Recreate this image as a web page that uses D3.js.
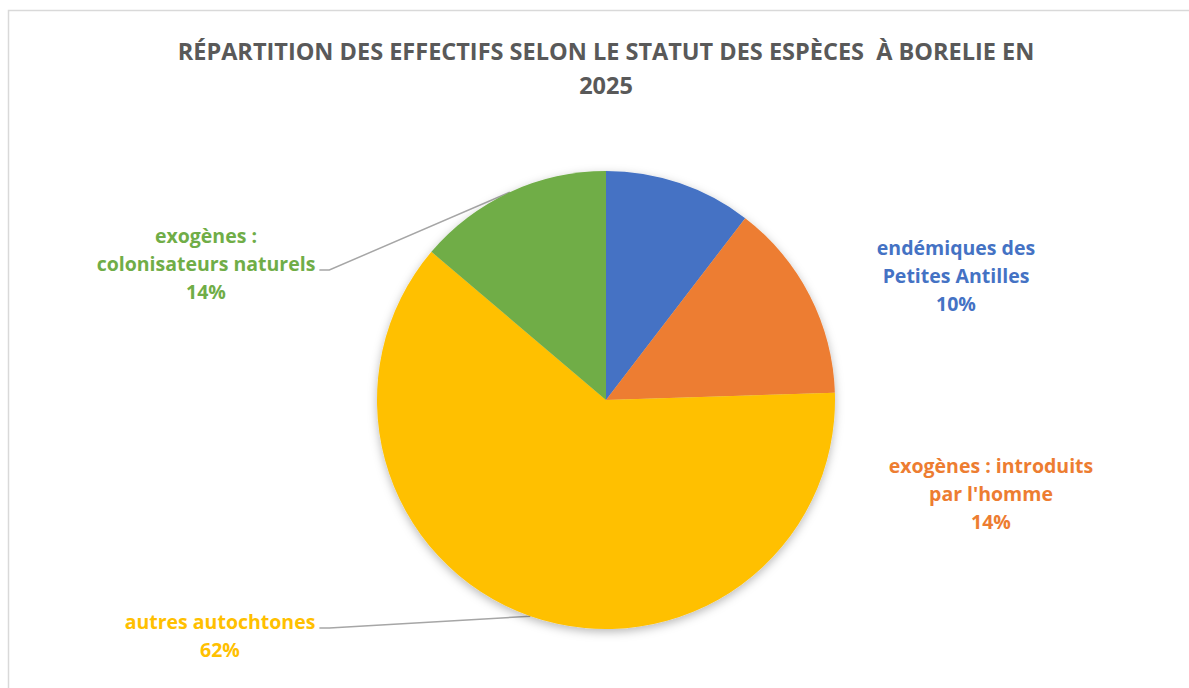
<!DOCTYPE html>
<html>
<head>
<meta charset="utf-8">
<script src="https://cdn.jsdelivr.net/npm/d3@7"></script>
<style>
  body { margin: 0; background: #fff; }
  text { font-family: "Open Sans", Lato, sans-serif; font-weight: bold; white-space: pre; }
</style>
</head>
<body>
<div id="chart"></div>
<script>
// data
var categories = ["endémiques des Petites Antilles", "exogènes : introduits par l'homme", "autres autochtones", "exogènes : colonisateurs naturels"];
var values = [10.4, 14.1, 61.7, 13.8];
var labelLines = [
  ["endémiques des", "Petites Antilles"],
  ["exogènes : introduits", "par l'homme"],
  ["autres autochtones"],
  ["exogènes :", "colonisateurs naturels"]
];
var colors = ["#4472C4", "#ED7D31", "#FFC000", "#70AD47"];
var titleLines = ["RÉPARTITION DES EFFECTIFS SELON LE STATUT DES ESPÈCES  À BORELIE EN", "2025"];

(function() {
  var width = 1189,
    height = 688;

  var cx = 606, cy = 400, radius = 229;

  // where Excel put each label (offset of the label block centre from the pie centre)
  var labelPos = [
    { dx: 350, dy: -124, leader: false },
    { dx: 385, dy: 94, leader: false },
    { dx: -386, dy: 236, leader: true },
    { dx: -400, dy: -136, leader: true }
  ];
  var lineH = 28;

  var svg = d3.select("#chart")
    .append("svg")
    .attr("width", width)
    .attr("height", height);

  svg.append("rect")
    .attr("x", 8.5)
    .attr("y", 10.5)
    .attr("width", width + 10)
    .attr("height", height + 10)
    .attr("fill", "#fff")
    .attr("stroke", "#D9D9D9")
    .attr("stroke-width", 1.5);

  var defs = svg.append("defs");
  var filter = defs.append("filter")
    .attr("id", "shadow")
    .attr("x", "-20%").attr("y", "-20%")
    .attr("width", "140%").attr("height", "140%");
  filter.append("feDropShadow")
    .attr("dx", 0)
    .attr("dy", 3)
    .attr("stdDeviation", 5)
    .attr("flood-color", "#000")
    .attr("flood-opacity", 0.28);

  // title
  svg.append("text")
    .attr("text-anchor", "middle")
    .attr("fill", "#595959")
    .style("font-size", "23.5px")
    .selectAll("tspan")
    .data(titleLines)
    .enter().append("tspan")
    .attr("x", 606)
    .attr("y", function(d, i) { return 60 + i * 34; })
    .text(function(d) { return d; });

  var data = categories.map(function(c, i) {
    return { name: c, value: values[i], lines: labelLines[i], color: colors[i], pos: labelPos[i] };
  });

  var pie = d3.pie()
    .sort(null)
    .value(function(d) { return d.value; });

  var arc = d3.arc()
    .innerRadius(0)
    .outerRadius(radius);

  var arcs = pie(data);

  var g = svg.append("g")
    .attr("transform", "translate(" + cx + "," + cy + ")");

  g.append("g")
    .attr("filter", "url(#shadow)")
    .selectAll("path")
    .data(arcs)
    .enter().append("path")
    .attr("d", arc)
    .attr("fill", function(d) { return d.data.color; });

  var total = d3.sum(values);

  var labels = g.selectAll(".lbl")
    .data(arcs)
    .enter().append("text")
    .attr("class", "lbl")
    .attr("text-anchor", "middle")
    .attr("fill", function(d) { return d.data.color; })
    .style("font-size", "19.5px");

  labels.each(function(d) {
    var t = d3.select(this);
    var lines = d.data.lines.concat([Math.round(d.data.value / total * 100) + "%"]);
    var top = d.data.pos.dy - (lines.length - 1) * lineH / 2;
    lines.forEach(function(l, i) {
      t.append("tspan")
        .attr("x", d.data.pos.dx)
        .attr("y", top + i * lineH + 7)
        .text(l);
    });
  });

  // leader lines for the labels sitting away from the pie
  labels.each(function(d) {
    if (!d.data.pos.leader) return;
    var tspans = d3.select(this).selectAll("tspan").nodes();
    var widest = 0, row = 0;
    tspans.slice(0, tspans.length - 1).forEach(function(n, i) {
      var w = n.getComputedTextLength();
      if (w >= widest) { widest = w; row = i; }
    });
    var x0 = d.data.pos.dx + widest / 2 + 4;
    var y0 = +d3.select(tspans[row]).attr("y") - 1;
    var a = (d.startAngle + d.endAngle) / 2;
    var ex = Math.sin(a) * radius, ey = -Math.cos(a) * radius;
    g.insert("path", ":first-child")
      .attr("d", "M" + x0 + "," + y0 + "L" + (x0 + 10) + "," + y0 + "L" + ex + "," + ey)
      .attr("fill", "none")
      .attr("stroke", "#A6A6A6")
      .attr("stroke-width", 1.5);
  });

})();
</script>
</body>
</html>
